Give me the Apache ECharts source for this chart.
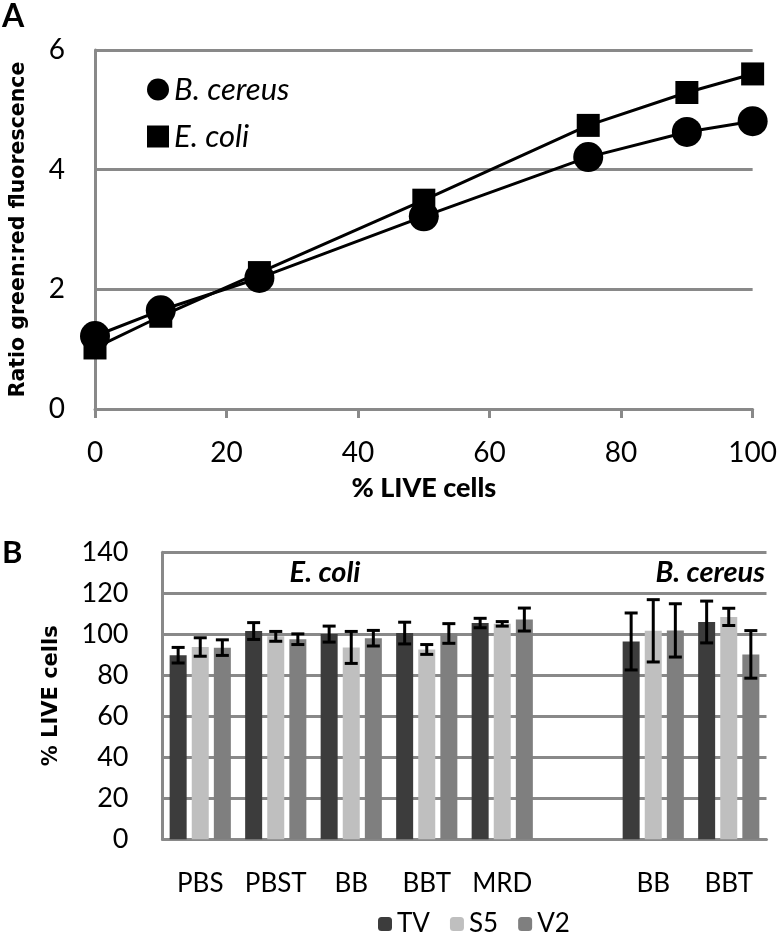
<!DOCTYPE html>
<html>
<head>
<meta charset="utf-8">
<script src="https://cdn.jsdelivr.net/npm/echarts@6/dist/echarts.min.js"></script>
<style>
html,body{margin:0;padding:0;background:#fff;}
#chart{width:780px;height:936px;}
</style>
</head>
<body>
<div id="chart"></div>
<script>
// ---------- Panel A data ----------
const pctLive = [0, 10, 25, 50, 75, 90, 100];
const bCereus = [1.22, 1.65, 2.19, 3.22, 4.21, 4.63, 4.81];
const eColi = [1.02, 1.55, 2.28, 3.49, 4.74, 5.29, 5.60];

// ---------- Panel B data ----------
const categoriesB = ['PBS', 'PBST', 'BB', 'BBT', 'MRD', '', 'BB', 'BBT'];
const tv    = [89.8, 101.6, 100.1, 100.6, 105.5, null, 96.5, 106.0];
const tvErr = [3.8, 4.1, 3.9, 5.3, 2.3, null, 13.9, 10.2];
const s5    = [93.8, 99.0, 93.6, 92.6, 105.1, null, 101.7, 108.5];
const s5Err = [4.5, 2.4, 7.8, 2.4, 1.1, null, 15.2, 4.2];
const v2    = [93.5, 97.6, 98.1, 100.4, 107.2, null, 101.9, 90.2];
const v2Err = [3.8, 2.6, 3.8, 4.8, 5.6, null, 13.0, 11.6];

const GRID_COLOR = '#898989';
const BAR_W = 17;
const BAR_GAP = 0.3;
const STEP = BAR_W * (1 + BAR_GAP);
const LABEL_FONT = 'Lato';

function errData(vals, errs) {
  const out = [];
  vals.forEach((v, i) => {
    if (v != null && errs[i] != null) out.push([i, v - errs[i], v + errs[i]]);
  });
  return out;
}

function errSeries(name, vals, errs, slot) {
  return {
    type: 'custom',
    name: name,
    xAxisIndex: 1, yAxisIndex: 1,
    z: 10,
    silent: true,
    data: errData(vals, errs),
    encode: { x: 0, y: [1, 2] },
    renderItem: function (params, api) {
      const idx = api.value(0);
      const top = api.coord([idx, api.value(2)]);
      const bot = api.coord([idx, api.value(1)]);
      const x = top[0] + (slot - 1) * STEP;
      const hw = 6.5;
      const st = { stroke: '#000', lineWidth: 3 };
      return {
        type: 'group',
        children: [
          { type: 'line', shape: { x1: x, y1: top[1], x2: x, y2: bot[1] }, style: st },
          { type: 'line', shape: { x1: x - hw, y1: top[1], x2: x + hw, y2: top[1] }, style: st },
          { type: 'line', shape: { x1: x - hw, y1: bot[1], x2: x + hw, y2: bot[1] }, style: st }
        ]
      };
    }
  };
}

const chart = echarts.init(document.getElementById('chart'), null, { renderer: 'canvas' });

const option = {
  animation: false,
  backgroundColor: '#fff',
  graphic: [
    { type: 'text', left: 2, top: 1, style: { text: 'A', font: 'bold 32px Lato', fill: '#000' } },
    { type: 'text', left: 2, top: 537, style: { text: 'B', font: 'bold 31px Lato', fill: '#000' } },
    { type: 'text', x: 325, y: 573, style: { text: 'E. coli', font: 'italic bold 29px Lato', fill: '#000', align: 'center', verticalAlign: 'middle' } },
    { type: 'text', x: 765, y: 573, style: { text: 'B. cereus', font: 'italic bold 29px Lato', fill: '#000', align: 'right', verticalAlign: 'middle' } }
  ],
  legend: [
    {
      data: [{ name: 'B. cereus', icon: 'circle' }, { name: 'E. coli', icon: 'rect' }],
      orient: 'vertical',
      left: 142, top: 69,
      itemWidth: 22, itemHeight: 22,
      itemGap: 16,
      textStyle: { fontFamily: LABEL_FONT, fontStyle: 'italic', fontSize: 31, color: '#000' },
      selectedMode: false
    },
    {
      data: ['TV', 'S5', 'V2'],
      orient: 'horizontal',
      left: 373, top: 906,
      itemWidth: 14, itemHeight: 14,
      itemGap: 20,
      textStyle: { fontFamily: LABEL_FONT, fontSize: 26, color: '#000' },
      selectedMode: false
    }
  ],
  grid: [
    { left: 80, top: 50, width: 675, height: 359 },
    { left: 162.5, top: 552.3, width: 604, height: 287 }
  ],
  xAxis: [
    {
      gridIndex: 0, type: 'value', min: 0, max: 100, interval: 20,
      name: '% LIVE cells', nameLocation: 'middle', nameGap: 66,
      nameTextStyle: { fontFamily: LABEL_FONT, fontWeight: 900, fontSize: 27, color: '#000' },
      axisLine: { show: true, lineStyle: { color: GRID_COLOR, width: 3 } },
      axisTick: { show: true, length: 9, lineStyle: { color: GRID_COLOR, width: 3 } },
      axisLabel: { fontFamily: LABEL_FONT, fontSize: 28, color: '#000', margin: 30 },
      splitLine: { show: false }
    },
    {
      gridIndex: 1, type: 'category', data: categoriesB,
      axisLine: { show: true, lineStyle: { color: GRID_COLOR, width: 3 } },
      axisTick: { show: false },
      axisLabel: { fontFamily: LABEL_FONT, fontSize: 26, color: '#000', margin: 31, interval: 0 },
      splitLine: { show: false }
    }
  ],
  yAxis: [
    {
      gridIndex: 0, type: 'value', min: 0, max: 6, interval: 2,
      name: 'Ratio green:red fluorescence', nameLocation: 'middle', nameGap: 66,
      nameTextStyle: { fontFamily: 'DejaVu Sans', fontWeight: 'bold', fontSize: 20.5, color: '#000' },
      axisLine: { show: true, lineStyle: { color: GRID_COLOR, width: 3 } },
      axisTick: { show: false },
      axisLabel: { fontFamily: LABEL_FONT, fontSize: 28, color: '#000', margin: 30 },
      splitLine: { show: true, lineStyle: { color: GRID_COLOR, width: 3 } }
    },
    {
      gridIndex: 1, type: 'value', min: 0, max: 140, interval: 20,
      name: '% LIVE cells', nameLocation: 'middle', nameGap: 100,
      nameTextStyle: { fontFamily: 'DejaVu Sans', fontWeight: 'bold', fontSize: 21, color: '#000' },
      axisLine: { show: true, lineStyle: { color: GRID_COLOR, width: 3 } },
      axisTick: { show: false },
      axisLabel: { fontFamily: LABEL_FONT, fontSize: 27, color: '#000', margin: 34 },
      splitLine: { show: true, lineStyle: { color: GRID_COLOR, width: 3 } }
    }
  ],
  series: [
    {
      name: 'B. cereus', type: 'line', xAxisIndex: 0, yAxisIndex: 0,
      data: pctLive.map((x, i) => [x, bCereus[i]]),
      symbol: 'circle', symbolSize: 30,
      lineStyle: { color: '#000', width: 3 },
      itemStyle: { color: '#000' },
      z: 5
    },
    {
      name: 'E. coli', type: 'line', xAxisIndex: 0, yAxisIndex: 0,
      data: pctLive.map((x, i) => [x, eColi[i]]),
      symbol: 'rect', symbolSize: 23,
      lineStyle: { color: '#000', width: 3 },
      itemStyle: { color: '#000' },
      z: 4
    },
    {
      name: 'TV', type: 'bar', xAxisIndex: 1, yAxisIndex: 1, data: tv,
      barWidth: BAR_W, barGap: (BAR_GAP * 100) + '%',
      itemStyle: { color: '#3c3c3c' }
    },
    {
      name: 'S5', type: 'bar', xAxisIndex: 1, yAxisIndex: 1, data: s5,
      barWidth: BAR_W, barGap: (BAR_GAP * 100) + '%',
      itemStyle: { color: '#bfbfbf' }
    },
    {
      name: 'V2', type: 'bar', xAxisIndex: 1, yAxisIndex: 1, data: v2,
      barWidth: BAR_W, barGap: (BAR_GAP * 100) + '%',
      itemStyle: { color: '#7f7f7f' }
    },
    errSeries('TV err', tv, tvErr, 0),
    errSeries('S5 err', s5, s5Err, 1),
    errSeries('V2 err', v2, v2Err, 2)
  ]
};

chart.setOption(option);
</script>
</body>
</html>
